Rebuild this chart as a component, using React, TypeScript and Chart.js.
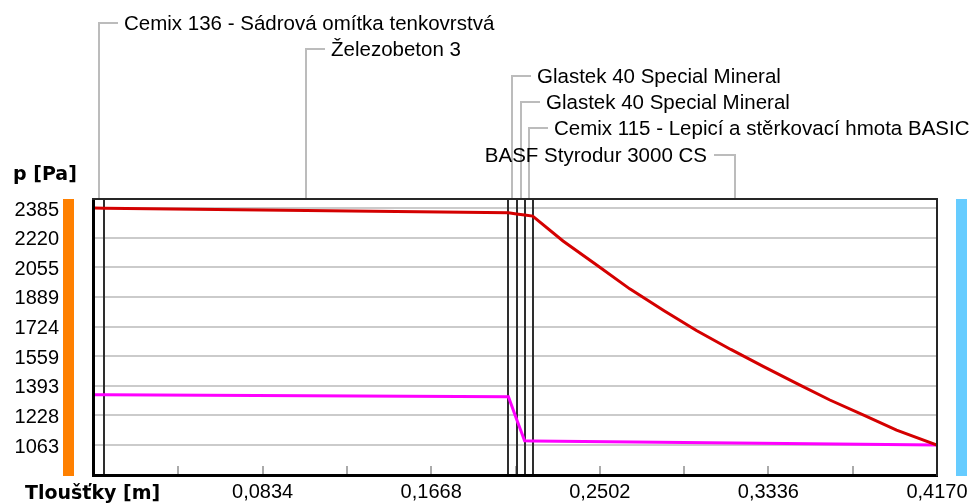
import React, { useEffect, useRef } from 'react';
import { Chart, registerables } from 'chart.js';

Chart.register(...registerables);

// ---- data ----
const layerNames = [
  'Cemix 136 - Sádrová omítka tenkovrstvá',
  'Železobeton 3',
  'Glastek 40 Special Mineral',
  'Glastek 40 Special Mineral',
  'Cemix 115 - Lepicí a stěrkovací hmota BASIC',
  'BASF Styrodur 3000 CS',
];
const layerThickness = [0.005, 0.2, 0.004, 0.004, 0.004, 0.2];

// saturated water vapour pressure (red)
const satPositions = [0, 0.005, 0.205, 0.209, 0.213, 0.217, 0.232, 0.249, 0.265, 0.282, 0.298, 0.315, 0.331, 0.348, 0.364, 0.381, 0.397, 0.417];
const satPressure = [2385, 2384, 2359, 2352, 2346, 2340, 2201, 2064, 1934, 1812, 1702, 1596, 1502, 1404, 1314, 1228, 1146, 1063];

// partial water vapour pressure (magenta)
const vapPositions = [0, 0.005, 0.205, 0.209, 0.213, 0.217, 0.417];
const vapPressure = [1344, 1343, 1332, 1208, 1087, 1086, 1063];

const yTickValues = [1063, 1228, 1393, 1559, 1724, 1889, 2055, 2220, 2385];
const yTickLabels = ['1063', '1228', '1393', '1559', '1724', '1889', '2055', '2220', '2385'];
const xTickValues = [0.0834, 0.1668, 0.2502, 0.3336, 0.417];
const xTickLabels = ['0,0834', '0,1668', '0,2502', '0,3336', '0,4170'];
const xMinorTickValues = [0.0417, 0.0834, 0.1251, 0.1668, 0.2085, 0.2502, 0.2919, 0.3336, 0.3753];

const yAxisTitle = 'p [Pa]';
const xAxisTitle = 'Tloušťky [m]';

const xMin = 0;
const xMax = 0.417;
const yMin = 895.7;
const yMax = 2435.2;

// ---- styles ----
const FONT = "'Liberation Sans', Arial, sans-serif";
const W = 978;
const H = 503;

const decorPlugin = {
  id: 'decor',
  beforeDatasetsDraw(chart: any) {
    const { ctx, chartArea: a, scales } = chart;
    const x = scales.x;
    ctx.save();
    // minor tick marks at bottom
    ctx.strokeStyle = '#ababab';
    ctx.lineWidth = 2;
    for (const v of xMinorTickValues) {
      const px = Math.round(x.getPixelForValue(v));
      ctx.beginPath();
      ctx.moveTo(px, a.bottom - 9);
      ctx.lineTo(px, a.bottom);
      ctx.stroke();
    }
    // layer boundaries
    ctx.strokeStyle = '#2e2e2e';
    ctx.lineWidth = 2;
    let cum = 0;
    for (let i = 0; i < layerThickness.length - 1; i++) {
      cum += layerThickness[i];
      const px = Math.round(x.getPixelForValue(cum));
      ctx.beginPath();
      ctx.moveTo(px, a.top);
      ctx.lineTo(px, a.bottom);
      ctx.stroke();
    }
    ctx.restore();
  },
  afterDatasetsDraw(chart: any) {
    const { ctx, chartArea: a, scales } = chart;
    const x = scales.x;
    ctx.save();
    // frame
    ctx.fillStyle = '#000';
    ctx.fillRect(a.left - 2, a.top - 1, 3, a.bottom - a.top + 3);
    ctx.fillRect(a.left - 2, a.bottom - 1, a.right - a.left + 3, 3);
    ctx.fillStyle = '#262626';
    ctx.fillRect(a.left - 2, a.top - 1, a.right - a.left + 3, 2);
    ctx.fillRect(a.right - 1, a.top - 1, 2, a.bottom - a.top + 2);

    // colour bars
    ctx.fillStyle = '#ff8000';
    ctx.fillRect(a.left - 31, a.top, 11, a.bottom - a.top + 1);
    ctx.fillStyle = '#66ccff';
    ctx.fillRect(a.right + 19, a.top, 11, a.bottom - a.top + 1);

    // layer callouts
    ctx.font = `20.5px ${FONT}`;
    ctx.textBaseline = 'middle';
    ctx.strokeStyle = '#bcbcbc';
    ctx.lineWidth = 2;
    let cum = 0;
    for (let i = 0; i < layerNames.length; i++) {
      const mid = cum + layerThickness[i] / 2;
      cum += layerThickness[i];
      const mx = Math.round(x.getPixelForValue(mid));
      const ly = Math.round(23 + 26.3 * i);
      const tw = ctx.measureText(layerNames[i]).width;
      const right = mx + 25 + tw <= W;
      ctx.beginPath();
      ctx.moveTo(mx, a.top - 1);
      ctx.lineTo(mx, ly);
      ctx.lineTo(right ? mx + 19 : mx - 21, ly);
      ctx.stroke();
      ctx.fillStyle = '#000';
      if (right) {
        ctx.textAlign = 'left';
        ctx.fillText(layerNames[i], mx + 25, ly + 1.5);
      } else {
        ctx.textAlign = 'right';
        ctx.fillText(layerNames[i], mx - 28, ly + 1.5);
      }
    }

    // axis titles
    ctx.font = `bold 19px 'DejaVu Sans', sans-serif`;
    ctx.textAlign = 'left';
    ctx.textBaseline = 'alphabetic';
    ctx.fillStyle = '#000';
    ctx.fillText(yAxisTitle, 13, 180);
    ctx.fillText(xAxisTitle, 25, 499);
    ctx.restore();
  },
};

export default function App() {
  const ref = useRef<HTMLCanvasElement | null>(null);

  useEffect(() => {
    document.body.style.margin = '0';
    const canvas = ref.current;
    if (!canvas) return;
    const chart = new Chart(canvas, {
      type: 'line',
      data: {
        datasets: [
          {
            label: 'p_sat',
            data: satPositions.map((p, i) => ({ x: p, y: satPressure[i] })),
            borderColor: '#d40000',
            borderWidth: 3,
            pointRadius: 0,
            tension: 0,
            fill: false,
          },
          {
            label: 'p',
            data: vapPositions.map((p, i) => ({ x: p, y: vapPressure[i] })),
            borderColor: '#ff00ff',
            borderWidth: 3,
            pointRadius: 0,
            tension: 0,
            fill: false,
          },
        ],
      },
      options: {
        animation: false,
        responsive: false,
        devicePixelRatio: 1,
        events: [],
        layout: { padding: { left: 0, right: 41, top: 199, bottom: 0 } },
        plugins: { legend: { display: false }, tooltip: { enabled: false } },
        scales: {
          x: {
            type: 'linear',
            min: xMin,
            max: xMax,
            afterBuildTicks: (s: any) => {
              s.ticks = xTickValues.map((v) => ({ value: v }));
            },
            afterFit: (s: any) => {
              s.height = 28;
              s.paddingLeft = 0;
              s.paddingRight = 0;
              s.paddingTop = 0;
              s.paddingBottom = 0;
            },
            grid: { display: false, drawTicks: false },
            border: { display: false },
            ticks: {
              autoSkip: false,
              maxRotation: 0,
              minRotation: 0,
              padding: 5,
              color: '#000',
              font: { family: FONT, size: 20 },
              callback: (_v: any, i: number) => xTickLabels[i],
            },
          },
          y: {
            type: 'linear',
            min: yMin,
            max: yMax,
            afterBuildTicks: (s: any) => {
              s.ticks = yTickValues.map((v) => ({ value: v }));
            },
            afterFit: (s: any) => {
              s.width = 94;
              s.paddingLeft = 0;
              s.paddingRight = 0;
              s.paddingTop = 0;
              s.paddingBottom = 0;
            },
            grid: { color: '#cbcbcb', lineWidth: 2, drawTicks: false },
            border: { display: false },
            ticks: {
              autoSkip: false,
              padding: 35,
              labelOffset: 2,
              color: '#000',
              font: { family: FONT, size: 20 },
              callback: (_v: any, i: number) => yTickLabels[i],
            },
          },
        },
      },
      plugins: [decorPlugin],
    } as any);
    return () => chart.destroy();
  }, []);

  return (
    <div style={{ width: W, height: H, background: '#fff' }}>
      <canvas ref={ref} width={W} height={H} style={{ display: 'block' }} />
    </div>
  );
}
